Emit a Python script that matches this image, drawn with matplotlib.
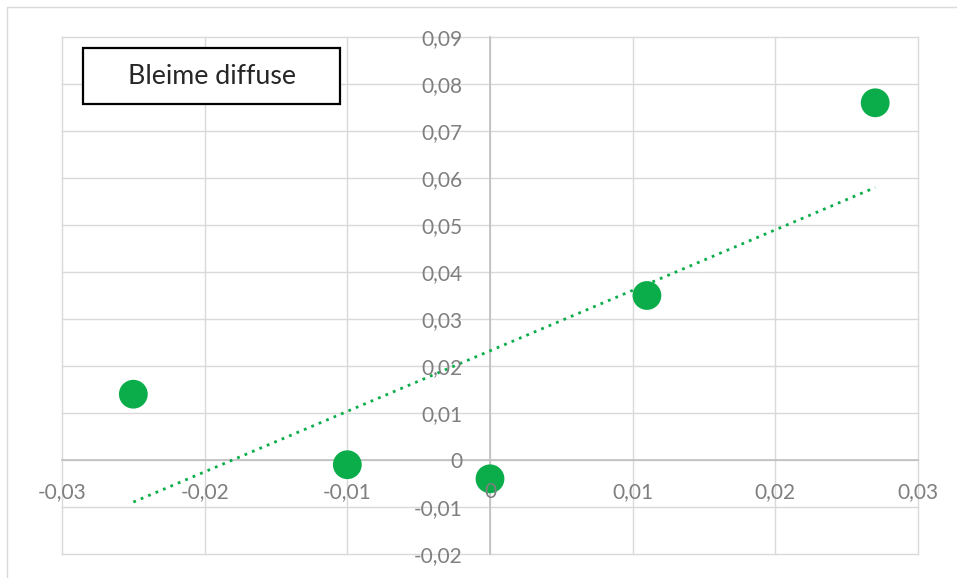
import numpy as np
import matplotlib.pyplot as plt
from matplotlib.patches import Rectangle
from matplotlib.ticker import FuncFormatter, MultipleLocator

plt.rcParams['font.family'] = ['Lato', 'DejaVu Sans']

# data
x_vals = [-0.025, -0.010, 0.000, 0.011, 0.027]
y_vals = [0.014, -0.001, -0.004, 0.035, 0.076]
title = 'Bleime diffuse'

green = '#0bad4b'
grid_col = '#d9d9d9'
axis_col = '#bfbfbf'
label_col = '#7f7f7f'


def comma_fmt(v, pos):
    v = round(v, 2)
    if v == 0:
        return '0'
    return f'{v:.2f}'.replace('.', ',')


W, H = 957, 578
fig = plt.figure(figsize=(W / 100, H / 100), dpi=100)
ax = fig.add_axes([62 / W, (H - 554) / H, 856 / W, 517 / H])

xmin, xmax = -0.03, 0.03
ymin, ymax = -0.02, 0.09
ax.set_xlim(xmin, xmax)
ax.set_ylim(ymin, ymax)

# gridlines incl. plot-area border
for gx in np.arange(-3, 4) / 100:
    ax.axvline(gx, color=grid_col, lw=1.0, zorder=0.5, clip_on=False)
for gy in np.arange(-2, 10) / 100:
    ax.axhline(gy, color=grid_col, lw=1.0, zorder=0.5, clip_on=False)

# axes crossing at zero
for s in ['top', 'right']:
    ax.spines[s].set_visible(False)
ax.spines['left'].set_position('zero')
ax.spines['bottom'].set_position('zero')
for s in ['left', 'bottom']:
    ax.spines[s].set_color(axis_col)
    ax.spines[s].set_linewidth(1.2)
    ax.spines[s].set_zorder(1)

ax.xaxis.set_major_locator(MultipleLocator(0.01))
ax.yaxis.set_major_locator(MultipleLocator(0.01))
ax.xaxis.set_major_formatter(FuncFormatter(comma_fmt))
ax.yaxis.set_major_formatter(FuncFormatter(comma_fmt))
ax.tick_params(axis='x', length=0, pad=16, labelsize=15, labelcolor=label_col)
ax.tick_params(axis='y', length=0, pad=20, labelsize=15, labelcolor=label_col)
ax.xaxis.set_zorder(4)
ax.yaxis.set_zorder(4)
ax.set_facecolor('none')

# linear trendline over the data range
slope, icpt = np.polyfit(x_vals, y_vals, 1)
tx = np.array([min(x_vals), max(x_vals)])
ax.plot(tx, slope * tx + icpt, color=green, lw=2.0, linestyle=(0, (1, 1.9)),
        zorder=2)

ax.scatter(x_vals, y_vals, s=430, color=green, edgecolors='none', zorder=3)

# title box
fig.patches.append(Rectangle((83 / W, 1 - 104 / H), 257 / W, 56 / H,
                             transform=fig.transFigure, facecolor='white',
                             edgecolor='black', lw=1.6, zorder=5))
fig.text(211.5 / W, 1 - 76 / H, title, ha='center', va='center',
         fontsize=19.3, color='#262626', zorder=6)

# chart border
fig.patches.append(Rectangle((7 / W, -0.05), 1.1, 1 - 7 / H + 0.05,
                             transform=fig.transFigure, facecolor='none',
                             edgecolor=grid_col, lw=1.0, zorder=0))

fig.savefig('out.png', dpi=100)
